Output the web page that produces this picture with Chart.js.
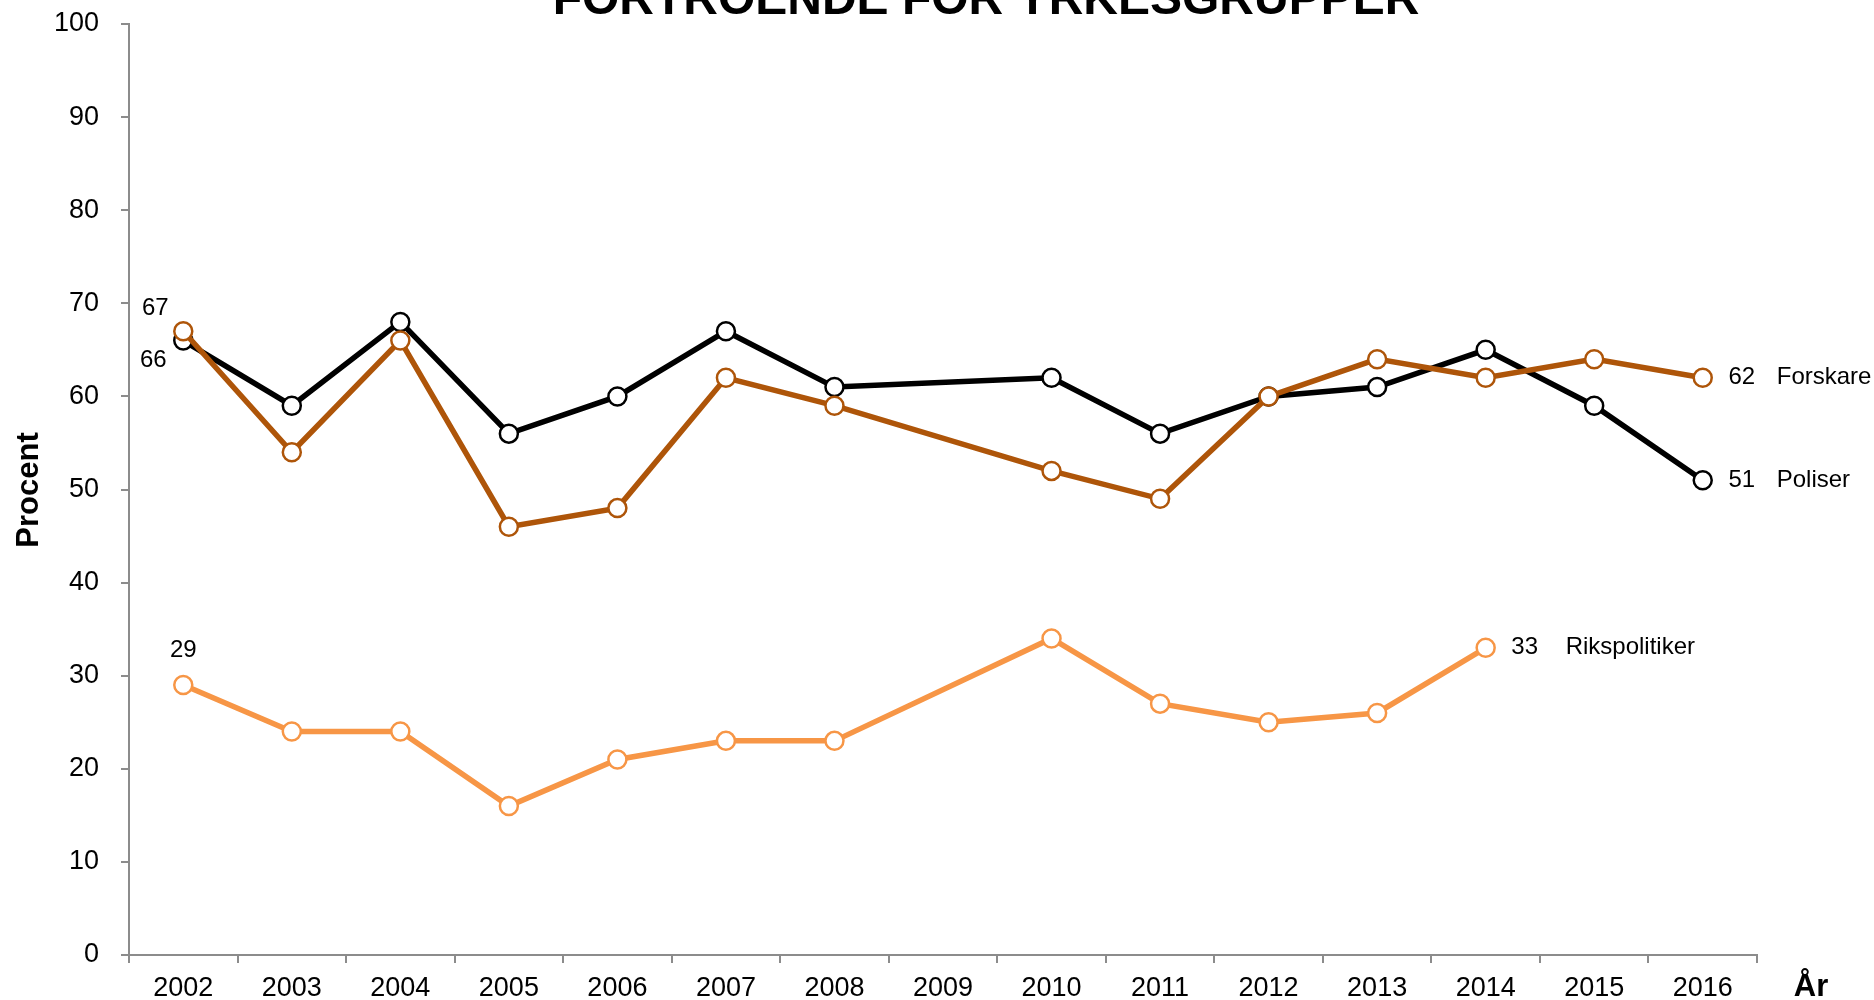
<!DOCTYPE html>
<html>
<head>
<meta charset="utf-8">
<script src="https://cdn.jsdelivr.net/npm/chart.js@4/dist/chart.umd.min.js"></script>
<style>
  html, body { margin: 0; padding: 0; background: #fff; }
  #wrap { width: 1874px; height: 1000px; position: relative; }
</style>
</head>
<body>
<div id="wrap"><canvas id="myChart" width="1874" height="1000"></canvas></div>
<script>
// data
var years = ["2002", "2003", "2004", "2005", "2006", "2007", "2008", "2009",
    "2010", "2011", "2012", "2013", "2014", "2015", "2016"];
var forskare = [67, 54, 66, 46, 48, 62, 59, null, 52, 49, 60, 64, 62, 64, 62];
var poliser = [66, 59, 68, 56, 60, 67, 61, null, 62, 56, 60, 61, 65, 59, 51];
var rikspolitiker = [29, 24, 24, 16, 21, 23, 23, null, 34, 27, 25, 26, 33, null, null];
var yTicks = [0, 10, 20, 30, 40, 50, 60, 70, 80, 90, 100];

var brown = "#AE5509";
var orange = "#F79646";
var axisGrey = "#8c8c8c";
var font = "'Liberation Sans', Arial, sans-serif";

// labels next to points: [dataset, index, text, dx, dy, align]
var pointLabels = [
    [0, 0, "67", -28, -23, "center"],
    [1, 0, "66", -30, 20, "center"],
    [2, 0, "29", 0, -35, "center"],
    [2, 12, "33", 39, 0, "center"],
    [2, 12, "Rikspolitiker", 80, 0, "left"],
    [0, 14, "62", 39, 0, "center"],
    [0, 14, "Forskare", 74, 0, "left"],
    [1, 14, "51", 39, 0, "center"],
    [1, 14, "Poliser", 74, 0, "left"],
];

var textPlugin = {
    id: "texts",
    afterDatasetsDraw: function (chart) {
        var ctx = chart.ctx;
        ctx.save();
        ctx.fillStyle = "#000";
        ctx.textBaseline = "middle";
        ctx.font = "24px " + font;
        pointLabels.forEach(function (l) {
            var el = chart.getDatasetMeta(l[0]).data[l[1]];
            ctx.textAlign = l[5];
            ctx.fillText(l[2], el.x + l[3], el.y + l[4]);
        });

        // title, cut off at the top like the original
        ctx.textAlign = "center";
        ctx.textBaseline = "alphabetic";
        ctx.font = "bold 48px " + font;
        ctx.fillText("FÖRTROENDE FÖR YRKESGRUPPER", 986, 14);

        // axis titles
        ctx.font = "bold 31px " + font;
        ctx.textBaseline = "middle";
        ctx.fillText("År", 1811, 987);
        ctx.translate(29, 490);
        ctx.rotate(-Math.PI / 2);
        ctx.fillText("Procent", 0, 0);
        ctx.restore();
    },
};

function makeSet(label, data, color) {
    return {
        label: label,
        data: data,
        borderColor: color,
        backgroundColor: "#fff",
        borderWidth: 5.5,
        pointRadius: 9,
        pointBorderWidth: 2.5,
        pointBackgroundColor: "#fff",
        pointBorderColor: color,
        spanGaps: true,
        tension: 0,
    };
}

var myChart = document.getElementById("myChart").getContext("2d");
var chart = new Chart(myChart, {
    type: "line",
    data: {
        labels: years,
        datasets: [
            makeSet("Forskare", forskare, brown),
            makeSet("Poliser", poliser, "#000"),
            makeSet("Rikspolitiker", rikspolitiker, orange),
        ],
    },
    options: {
        responsive: false,
        animation: false,
        layout: { padding: { left: 0, right: 117, top: 24, bottom: 0 } },
        plugins: {
            legend: { display: false },
            tooltip: { enabled: false },
            title: { display: false },
        },
        scales: {
            x: {
                type: "category",
                offset: true,
                grid: {
                    offset: true,
                    drawOnChartArea: false,
                    drawTicks: true,
                    tickLength: 8,
                    color: axisGrey,
                    lineWidth: 2,
                },
                border: { color: axisGrey, width: 2 },
                ticks: {
                    color: "#000",
                    font: { size: 27, family: font },
                    padding: 9,
                    maxRotation: 0,
                    autoSkip: false,
                },
                afterFit: function (scale) {
                    scale.height = 45;
                    scale.paddingLeft = 0;
                    scale.paddingRight = 0;
                },
            },
            y: {
                min: 0,
                max: 100,
                afterBuildTicks: function (scale) {
                    scale.ticks = yTicks.map(function (v) { return { value: v }; });
                },
                grid: {
                    drawOnChartArea: false,
                    drawTicks: true,
                    tickLength: 8,
                    color: axisGrey,
                    lineWidth: 2,
                },
                border: { color: axisGrey, width: 2 },
                ticks: {
                    color: "#000",
                    font: { size: 27, family: font },
                    padding: 22,
                },
                afterFit: function (scale) {
                    scale.width = 129;
                    scale.paddingTop = 0;
                    scale.paddingBottom = 0;
                },
            },
        },
    },
    plugins: [textPlugin],
});
</script>
</body>
</html>
